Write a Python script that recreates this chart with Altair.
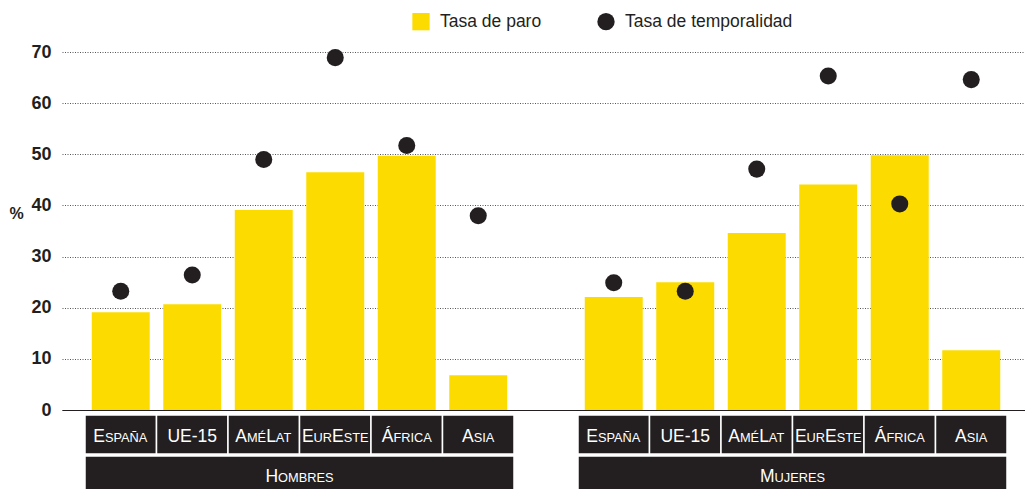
import altair as alt
import pandas as pd

# ---------------- data ----------------
categorias = ["España", "UE-15", "AméLat", "EurEste", "África", "Asia"]
grupos = ["Hombres", "Mujeres"]
paro_hombres = [19.1, 20.7, 39.1, 46.5, 49.7, 6.8]
temp_hombres = [23.2, 26.4, 49.0, 68.9, 51.7, 38.0]
paro_mujeres = [22.1, 25.0, 34.6, 44.1, 49.8, 11.7]
temp_mujeres = [24.9, 23.2, 47.1, 65.3, 40.3, 64.6]
series = ["Tasa de paro", "Tasa de temporalidad"]
y_ticks = [0, 10, 20, 30, 40, 50, 60, 70]

# ---------------- layout / style ----------------
SLOT_PX = 71.5
GROUP_GAP = 0.895
BAR_W = 0.811
X_MIN = -0.8217
PLOT_W = 963
PLOT_H = 358
X_MAX = X_MIN + PLOT_W / SLOT_PX
YELLOW = "#FCDC00"
DARK = "#231F20"
FONT = "Liberation Sans"
BIG, SMALL = 17.5, 12.8

paro = {"Hombres": paro_hombres, "Mujeres": paro_mujeres}
temp = {"Hombres": temp_hombres, "Mujeres": temp_mujeres}

rows = []
for gi, g in enumerate(grupos):
    for ci, c in enumerate(categorias):
        pos = ci + gi * (len(categorias) + GROUP_GAP)
        rows.append(dict(grupo=g, cat=c, pos=pos, paro=paro[g][ci], temp=temp[g][ci]))
df = pd.DataFrame(rows)

bars = pd.DataFrame(dict(serie=series[0], valor=df["paro"], bx0=df["pos"] - BAR_W / 2,
                         bx1=df["pos"] + BAR_W / 2))
dots = pd.DataFrame(dict(serie=series[1], valor=df["temp"], pos=df["pos"]))
cat_boxes = pd.DataFrame(dict(x0=df["pos"] - 0.5, x1=df["pos"] + 0.5))
grp_boxes = df.groupby("grupo", sort=False)["pos"].agg(["min", "max"]).reset_index()
grp_boxes["x0"] = grp_boxes["min"] - 0.5
grp_boxes["x1"] = grp_boxes["max"] + 0.5

# Arial / Liberation Sans advance widths (per 1000 em)
WID = {"A": 667, "B": 667, "C": 722, "E": 667, "F": 611, "H": 722, "I": 278, "J": 500,
       "L": 556, "M": 833, "N": 722, "O": 778, "P": 667, "R": 722, "S": 667, "T": 611,
       "U": 722, "Á": 667, "É": 667, "Ñ": 722, "-": 333, "1": 556, "5": 556}


def small_caps(label, center):
    runs = []
    for ch in label:
        sm = ch.islower()
        if runs and runs[-1][1] == sm:
            runs[-1][0] += ch.upper()
        else:
            runs.append([ch.upper(), sm])
    widths = [sum(WID.get(c, 600) for c in r) / 1000 * (SMALL if sm else BIG) for r, sm in runs]
    start = center - sum(widths) / 2 / SLOT_PX
    out, cum = [], 0
    for (r, sm), w in zip(runs, widths):
        out.append(dict(seg=r, fs=SMALL if sm else BIG, xs=start + cum / SLOT_PX))
        cum += w
    return out


cat_text = pd.DataFrame([s for _, r in df.iterrows() for s in small_caps(r["cat"], r["pos"])])
grp_text = pd.DataFrame([s for _, r in grp_boxes.iterrows()
                         for s in small_caps(r["grupo"], (r["x0"] + r["x1"]) / 2)])

# ---------------- encodings ----------------
xscale = alt.Scale(domain=[X_MIN, X_MAX], nice=False, zero=False)
xaxis = alt.Axis(domain=True, domainColor=DARK, domainWidth=1.2, labels=False, ticks=False,
                 grid=False, title=None)
yscale = alt.Scale(domain=[0, 70], nice=False)
yaxis = alt.Axis(values=y_ticks, domain=False, ticks=False, labelFont=FONT,
                 labelFontWeight="bold", labelFontSize=18, labelColor=DARK, labelPadding=11,
                 grid=True, gridColor="#555555", gridDash=[1, 1.5], gridWidth=1,
                 title="%", titleAngle=0, titleX=-46, titleY=161, titleFontSize=16,
                 titleFontWeight="bold", titleColor=DARK, titleFont=FONT,
                 titleAlign="center", titleBaseline="middle")


def X(f):
    return alt.X(f, type="quantitative", scale=xscale, axis=xaxis)


def Y(f):
    return alt.Y(f, type="quantitative", scale=yscale, axis=yaxis)


color_scale = alt.Scale(domain=series, range=[YELLOW, DARK])
shape_scale = alt.Scale(domain=series, range=["square", "circle"])
legend = alt.Legend(title=None, orient="none", legendX=350, legendY=-39.5, direction="horizontal",
                    symbolSize=300, labelFontSize=17.5, labelFont=FONT, labelColor=DARK,
                    labelLimit=400, columnPadding=55, labelOffset=10, symbolStrokeWidth=0,
                    symbolOpacity=1)

bar_layer = alt.Chart(bars).mark_bar(opacity=1).encode(
    x=X("bx0"), x2="bx1", y=Y("valor"), y2=alt.datum(0),
    color=alt.Color("serie:N", scale=color_scale, legend=legend),
)
dot_layer = alt.Chart(dots).mark_point(filled=True, size=290, opacity=1).encode(
    x=X("pos"), y=Y("valor"),
    color=alt.Color("serie:N", scale=color_scale, legend=legend),
    shape=alt.Shape("serie:N", scale=shape_scale, legend=legend),
)
cat_box_layer = alt.Chart(cat_boxes).mark_rect(fill=DARK, stroke="white", strokeWidth=1.5).encode(
    x=X("x0"), x2="x1", y=alt.value(363), y2=alt.value(402)
)
grp_box_layer = alt.Chart(grp_boxes).mark_rect(fill=DARK, stroke="white", strokeWidth=1.5).encode(
    x=X("x0"), x2="x1", y=alt.value(404), y2=alt.value(445)
)
cat_text_layer = alt.Chart(cat_text).mark_text(align="left", baseline="alphabetic", font=FONT,
                                               color="white").encode(
    x=X("xs"), y=alt.value(390), text="seg:N", size=alt.Size("fs:Q", scale=None)
)
grp_text_layer = alt.Chart(grp_text).mark_text(align="left", baseline="alphabetic", font=FONT,
                                               color="white").encode(
    x=X("xs"), y=alt.value(429.5), text="seg:N", size=alt.Size("fs:Q", scale=None)
)

chart = alt.layer(
    bar_layer, dot_layer, cat_box_layer, grp_box_layer, cat_text_layer, grp_text_layer
).properties(
    width=PLOT_W, height=PLOT_H,
    autosize=alt.AutoSizeParams(type="none"),
    padding={"left": 54, "top": 44, "right": 0, "bottom": 79},
    background="white",
).configure_view(stroke=None)

chart.save("out.html", embed_options={"renderer": "svg", "actions": False})
